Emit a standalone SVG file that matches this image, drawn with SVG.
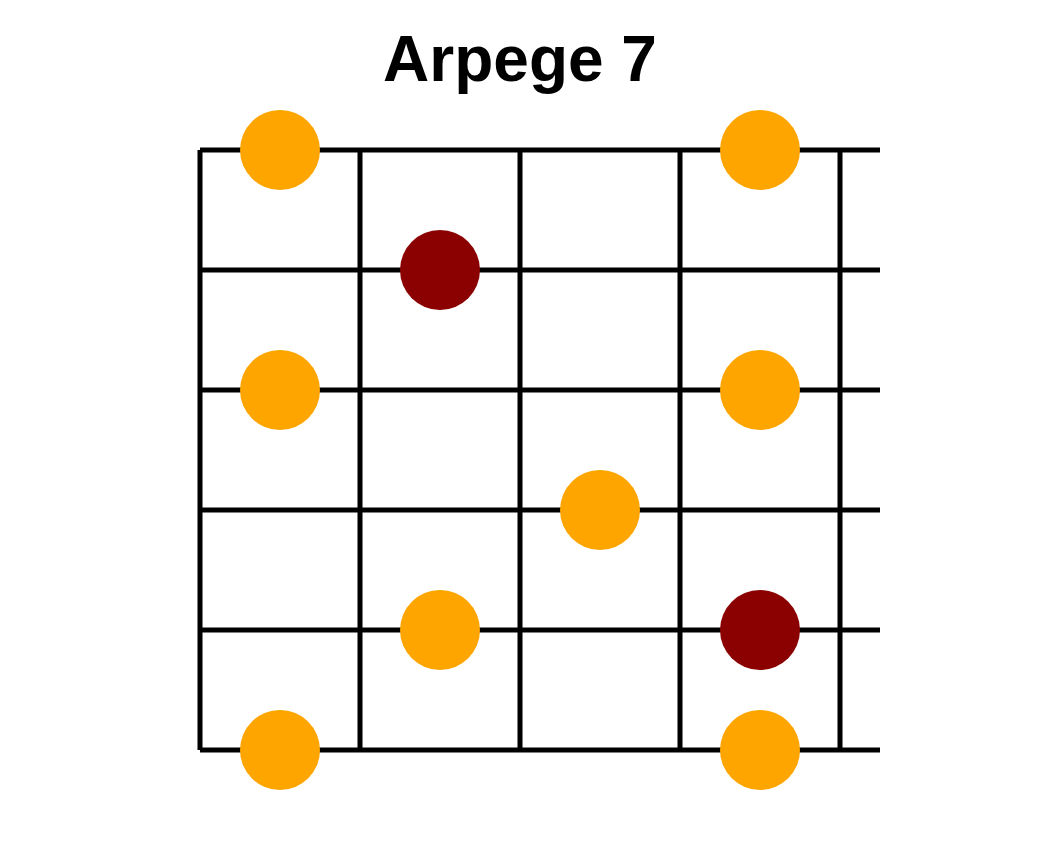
<svg xmlns="http://www.w3.org/2000/svg" width="1040" height="850" viewBox="0 0 1040 850">
<style>
.g{stroke:#000;stroke-width:5;fill:none}
.o{fill:#FFA500}
.r{fill:#8B0000}
.t{font-family:"Liberation Sans",Arial,sans-serif;font-weight:bold;font-size:64px;fill:#000}
</style>
<rect width="1040" height="850" fill="#fff"/>
<text class="t" x="520" y="81" text-anchor="middle">Arpege 7</text>
<g id="grid" class="g">
<line x1="200" y1="150" x2="880" y2="150"/>
<line x1="200" y1="270" x2="880" y2="270"/>
<line x1="200" y1="390" x2="880" y2="390"/>
<line x1="200" y1="510" x2="880" y2="510"/>
<line x1="200" y1="630" x2="880" y2="630"/>
<line x1="200" y1="750" x2="880" y2="750"/>
<line x1="200" y1="150" x2="200" y2="750"/>
<line x1="360" y1="150" x2="360" y2="750"/>
<line x1="520" y1="150" x2="520" y2="750"/>
<line x1="680" y1="150" x2="680" y2="750"/>
<line x1="840" y1="150" x2="840" y2="750"/>
</g>
<g id="dot1"><circle class="o" cx="280" cy="150" r="40"/></g>
<g id="dot2"><circle class="o" cx="760" cy="150" r="40"/></g>
<g id="dot3"><circle class="r" cx="440" cy="270" r="40"/></g>
<g id="dot4"><circle class="o" cx="280" cy="390" r="40"/></g>
<g id="dot5"><circle class="o" cx="760" cy="390" r="40"/></g>
<g id="dot6"><circle class="o" cx="600" cy="510" r="40"/></g>
<g id="dot7"><circle class="o" cx="440" cy="630" r="40"/></g>
<g id="dot8"><circle class="r" cx="760" cy="630" r="40"/></g>
<g id="dot9"><circle class="o" cx="280" cy="750" r="40"/></g>
<g id="dot10"><circle class="o" cx="760" cy="750" r="40"/></g>
</svg>
